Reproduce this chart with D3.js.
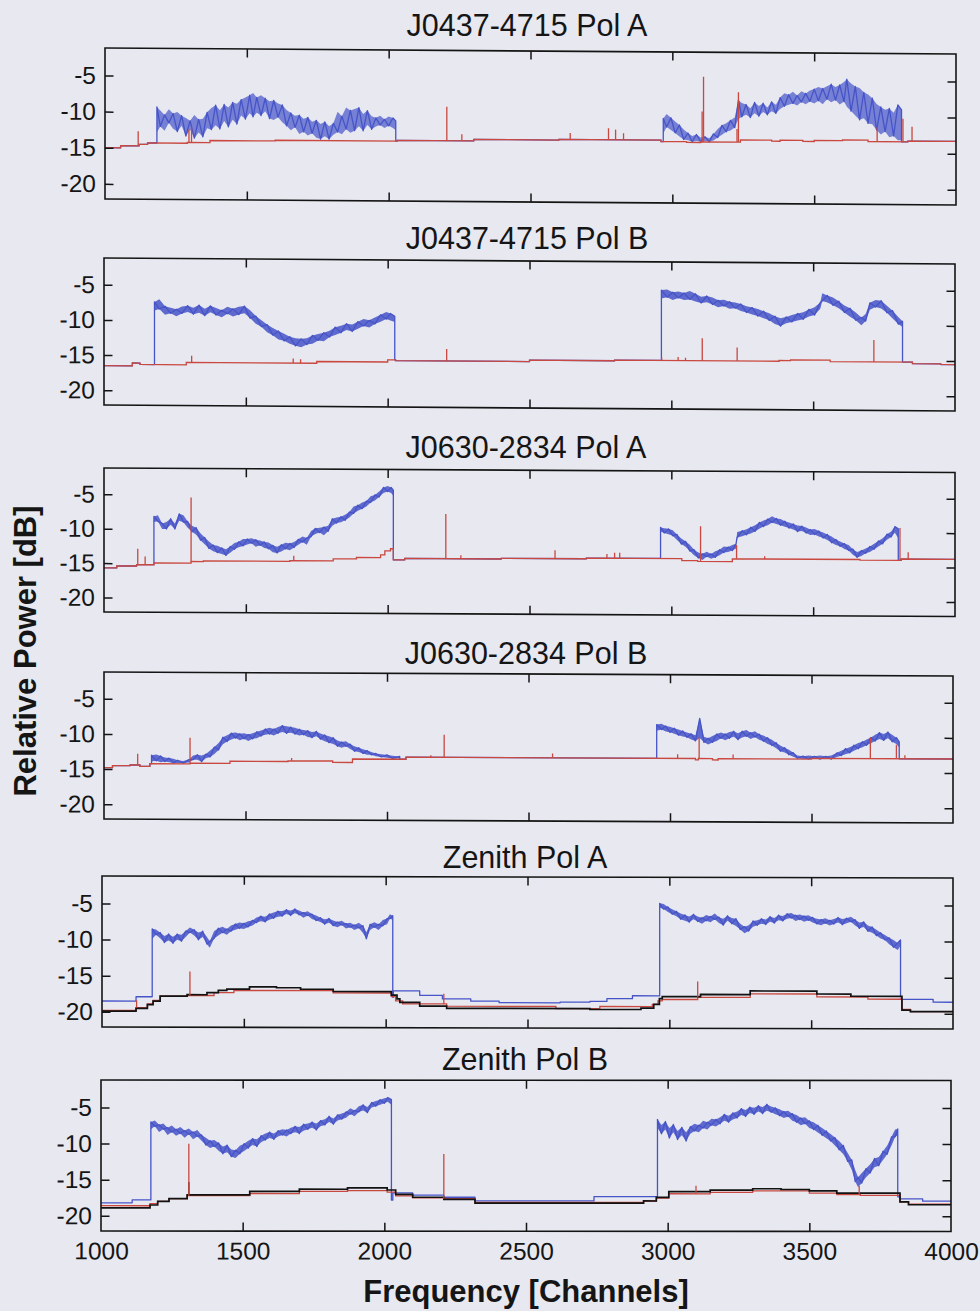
<!DOCTYPE html>
<html>
<head>
<meta charset="utf-8">
<script src="https://cdn.jsdelivr.net/npm/d3@7"></script>
<style>
  html, body { margin: 0; padding: 0; background: #e7e8f0; }
  svg { display: block; }
  text { font-family: "Liberation Sans", Arial, Helvetica, sans-serif; fill: #151515; }
</style>
</head>
<body>
<svg id="chart" width="980" height="1311"></svg>
<script>
// ---------------------------------------------------------------
// Data: relative power (dB) versus frequency channel.
// Baselines are step series [channel, dB]; spikes are [channel, peak dB];
// blue bands are sampled as [channel, low dB, high dB].
// ---------------------------------------------------------------
const xTickValues = [1000, 1500, 2000, 2500, 3000, 3500, 4000];
const yTickValues = [-5, -10, -15, -20];
const channelDomain = [1000, 4000];
const powerDomain = [-22.1, -1.2];

const titles = ["J0437-4715 Pol A", "J0437-4715 Pol B", "J0630-2834 Pol A",
                "J0630-2834 Pol B", "Zenith Pol A", "Zenith Pol B"];

// ---- J0437-4715 Pol A ----
const p1Red = [[1000,-15.0],[1055,-14.7],[1120,-14.5],[1150,-14.3],[1290,-14.2],[1370,-13.9],[1600,-13.8],
  [2030,-13.7],[2300,-13.5],[2600,-13.4],[2960,-13.6],[3050,-13.7],[3100,-13.6],[3240,-13.3],[3350,-13.45],
  [3380,-13.3],[3460,-13.45],[3500,-13.3],[3600,-13.2],[3690,-13.4],[3830,-13.3],[4000,-13.3]];
const p1RedSpikes = [[1117,-12.7],[1296,-12.4],[1305,-12.1],[2205,-9.0],[2258,-12.8],[2640,-12.5],[2775,-11.8],
  [2800,-12.0],[2828,-12.5],[3105,-9.4],[3110,-4.6],[3228,-11.8],[3233,-6.7],[3722,-11.4],[3813,-10.2],[3845,-11.3]];
const p1BlueLow = [
  [1183,-12.8,-9.3],[1195,-12.0,-9.8],[1210,-12.6,-10.4],[1225,-11.5,-9.6],[1240,-12.3,-10.2],[1255,-12.7,-10.0],
  [1270,-11.9,-10.5],[1285,-13.3,-10.8],[1300,-12.4,-11.2],[1315,-13.6,-10.4],[1330,-12.8,-11.0],[1345,-13.4,-10.9],
  [1360,-12.2,-10.0],[1375,-12.4,-9.4],[1390,-11.8,-9.0],[1405,-12.3,-9.7],[1420,-11.2,-8.9],[1435,-12.0,-9.3],
  [1450,-11.0,-8.6],[1465,-11.6,-8.8],[1480,-10.4,-8.2],[1495,-10.9,-7.9],[1510,-10.1,-7.6],[1522,-10.6,-7.3],
  [1535,-10.0,-7.9],[1550,-10.4,-7.6],[1565,-9.8,-8.0],[1580,-10.8,-8.4],[1595,-11.0,-8.3],[1610,-10.6,-8.7],
  [1625,-11.3,-8.9],[1640,-11.8,-9.6],[1655,-12.4,-10.0],[1670,-12.0,-10.4],[1685,-12.9,-10.3],[1700,-12.6,-10.8],
  [1715,-13.1,-10.6],[1730,-12.8,-11.2],[1745,-13.4,-11.0],[1760,-13.6,-11.5],[1775,-13.2,-11.2],[1790,-13.6,-11.8],
  [1805,-13.0,-11.4],[1820,-12.6,-9.8],[1835,-12.9,-10.4],[1850,-12.2,-9.2],[1865,-12.7,-9.6],[1880,-12.4,-9.4],
  [1895,-11.8,-9.2],[1910,-12.4,-10.1],[1925,-11.6,-9.6],[1940,-12.2,-10.4],[1955,-11.8,-10.6],[1970,-11.6,-10.3],
  [1985,-12.0,-10.8],[2000,-11.7,-10.4],[2015,-12.0,-10.6],[2025,-12.3,-11.0]];
const p1BlueHigh = [
  [2968,-12.5,-10.4],[2980,-11.6,-9.8],[2995,-12.0,-10.3],[3010,-12.4,-10.8],[3025,-12.9,-11.3],[3040,-13.3,-11.9],
  [3055,-13.4,-12.4],[3070,-13.6,-12.8],[3085,-13.5,-12.6],[3100,-13.6,-13.0],[3115,-13.5,-12.9],[3130,-13.6,-13.1],
  [3145,-13.4,-12.5],[3160,-13.0,-11.8],[3175,-12.6,-11.3],[3190,-12.2,-11.0],[3205,-12.0,-10.6],[3220,-11.6,-10.2],
  [3233,-10.4,-7.8],[3245,-10.1,-8.2],[3260,-9.8,-8.4],[3275,-10.2,-8.9],[3290,-9.6,-8.1],[3305,-10.0,-8.6],
  [3320,-9.4,-8.2],[3335,-9.8,-8.8],[3350,-9.3,-8.0],[3365,-9.6,-8.4],[3380,-9.0,-7.4],[3395,-8.6,-6.8],
  [3410,-8.4,-7.0],[3425,-8.2,-6.6],[3440,-8.5,-7.1],[3455,-8.0,-6.5],[3470,-8.3,-6.8],[3485,-7.9,-6.4],
  [3500,-8.2,-6.2],[3515,-7.8,-5.9],[3530,-8.3,-6.1],[3545,-7.6,-5.8],[3560,-8.0,-5.5],[3575,-7.7,-5.9],
  [3590,-8.3,-5.6],[3605,-7.9,-5.2],[3615,-8.6,-4.8],[3630,-9.2,-5.4],[3645,-9.8,-5.8],[3660,-10.4,-6.0],
  [3675,-10.2,-6.6],[3690,-10.9,-6.9],[3705,-11.0,-7.4],[3720,-11.8,-8.2],[3735,-12.4,-8.6],[3750,-12.0,-9.0],
  [3765,-12.8,-8.8],[3780,-12.6,-9.4],[3795,-13.2,-8.3],[3808,-13.2,-9.0]];

// ---- J0437-4715 Pol B ----
const p2Red = [[1000,-16.5],[1100,-16.1],[1127,-16.3],[1290,-15.95],[1750,-15.7],[2000,-15.4],[2028,-15.5],
  [2500,-15.3],[2800,-15.2],[3380,-15.1],[3420,-15.0],[3560,-15.2],[3850,-15.4],[3950,-15.5],[4000,-15.5]];
const p2RedSpikes = [[1309,-15.0],[1667,-15.3],[1693,-15.4],[2208,-13.8],[2966,-14.8],[3024,-14.7],[3050,-14.8],
  [3109,-12.0],[3232,-13.3],[3714,-12.1]];
const p2BlueLow = [
  [1178,-8.6,-7.4],[1195,-8.4,-7.0],[1215,-9.2,-8.0],[1235,-9.0,-8.2],[1255,-9.4,-8.4],[1275,-9.0,-8.0],
  [1295,-8.8,-7.9],[1315,-9.1,-8.2],[1335,-8.9,-7.8],[1355,-9.3,-8.3],[1375,-8.8,-7.9],[1395,-9.2,-8.2],
  [1415,-9.5,-8.5],[1435,-9.0,-8.0],[1455,-9.4,-8.3],[1475,-9.1,-8.0],[1495,-8.9,-7.9],[1515,-9.6,-8.5],
  [1535,-10.4,-9.3],[1555,-10.8,-9.9],[1575,-11.6,-10.5],[1595,-12.0,-11.0],[1615,-12.6,-11.4],[1635,-12.8,-11.8],
  [1655,-13.2,-12.2],[1675,-13.5,-12.4],[1695,-13.7,-12.5],[1715,-13.3,-12.4],[1735,-13.2,-12.0],[1755,-12.7,-11.8],
  [1775,-12.8,-11.6],[1795,-12.2,-11.3],[1815,-11.9,-10.8],[1835,-11.6,-10.6],[1855,-11.2,-10.3],[1875,-11.4,-10.4],
  [1895,-11.0,-10.0],[1915,-10.6,-9.6],[1935,-10.8,-9.8],[1955,-10.3,-9.4],[1975,-10.0,-9.0],[1995,-9.6,-8.6],
  [2010,-9.8,-8.8],[2025,-10.0,-9.2]];
const p2BlueHigh = [
  [2965,-6.4,-5.2],[2985,-6.2,-5.1],[3005,-6.6,-5.5],[3025,-6.3,-5.4],[3045,-6.6,-5.6],[3065,-6.5,-5.3],
  [3085,-6.8,-5.7],[3105,-7.0,-6.1],[3125,-6.9,-6.0],[3145,-7.2,-6.2],[3165,-7.6,-6.6],[3185,-7.4,-6.5],
  [3205,-7.8,-6.8],[3225,-7.7,-6.9],[3245,-8.1,-7.1],[3265,-8.3,-7.4],[3285,-8.6,-7.6],[3305,-8.8,-7.8],
  [3325,-9.1,-8.1],[3345,-9.4,-8.4],[3365,-9.9,-8.8],[3385,-10.2,-9.1],[3405,-9.8,-8.9],[3425,-9.6,-8.6],
  [3445,-9.4,-8.4],[3465,-9.2,-8.2],[3485,-8.8,-7.8],[3505,-8.6,-7.5],[3525,-7.7,-6.8],[3532,-6.6,-5.5],
  [3550,-6.8,-5.8],[3570,-7.2,-6.1],[3590,-7.6,-6.6],[3610,-8.2,-7.2],[3630,-8.8,-7.6],[3650,-9.3,-8.2],
  [3670,-10.0,-8.9],[3685,-9.4,-8.4],[3700,-7.8,-6.8],[3720,-7.4,-6.4],[3740,-7.6,-6.5],[3760,-8.2,-7.2],
  [3780,-9.0,-7.9],[3800,-9.8,-8.8],[3815,-10.2,-9.4]];

// ---- J0630-2834 Pol A ----
const p3Red = [[1000,-15.7],[1045,-15.4],[1115,-15.2],[1176,-14.95],[1307,-14.7],[1350,-14.6],[1655,-14.5],
  [1808,-14.2],[1890,-14.0],[1975,-13.6],[1990,-13.0],[2010,-12.7],[2020,-14.3],[2060,-14.1],[2400,-14.0],
  [2700,-13.9],[3037,-14.2],[3093,-14.3],[3215,-13.9],[3665,-14.0],[3810,-13.8],[4000,-13.8]];
const p3RedSpikes = [[1119,-12.9],[1145,-14.0],[1307,-5.4],[1669,-13.8],[2205,-7.6],[2258,-13.6],[2590,-12.8],
  [2773,-13.3],[2800,-13.1],[2818,-13.1],[3103,-9.2],[3230,-11.9],[3329,-13.5],[3806,-9.3],[3835,-12.8]];
const p3BlueLow = [
  [1176,-9.0,-8.2],[1190,-8.9,-8.0],[1205,-10.0,-9.2],[1220,-10.0,-9.0],[1235,-9.4,-8.5],[1250,-10.0,-9.2],
  [1265,-8.8,-7.8],[1280,-9.0,-8.0],[1295,-9.8,-8.9],[1310,-10.4,-9.5],[1325,-10.8,-9.8],[1340,-11.6,-10.6],
  [1355,-12.2,-11.2],[1370,-12.8,-11.8],[1385,-13.2,-12.3],[1400,-13.4,-12.4],[1415,-13.6,-12.7],[1430,-13.8,-12.9],
  [1445,-13.4,-12.5],[1460,-12.9,-12.0],[1475,-12.6,-11.8],[1490,-12.4,-11.4],[1505,-12.2,-11.4],[1520,-12.0,-11.3],
  [1535,-12.5,-11.5],[1550,-12.3,-11.6],[1565,-12.7,-11.8],[1580,-12.8,-11.9],[1595,-13.3,-12.3],[1610,-13.4,-12.5],
  [1625,-13.2,-12.2],[1640,-12.8,-11.9],[1655,-13.0,-12.0],[1670,-12.6,-11.8],[1685,-12.2,-11.4],[1700,-11.8,-11.0],
  [1715,-12.2,-11.2],[1730,-11.0,-10.2],[1745,-10.6,-9.8],[1760,-10.4,-9.7],[1775,-10.8,-9.6],[1790,-10.2,-9.4],
  [1805,-9.4,-8.4],[1820,-9.0,-8.2],[1835,-8.9,-8.1],[1850,-8.6,-7.8],[1865,-8.2,-7.4],[1880,-7.6,-6.6],
  [1895,-7.2,-6.4],[1910,-6.9,-6.0],[1925,-6.6,-5.8],[1940,-6.0,-5.1],[1955,-5.7,-4.9],[1970,-5.2,-4.4],
  [1985,-4.6,-3.8],[2000,-4.4,-3.6],[2012,-4.6,-3.8],[2020,-5.0,-4.2]];
const p3BlueHigh = [
  [2962,-10.0,-9.4],[2975,-10.2,-9.5],[2990,-10.4,-9.6],[3005,-10.6,-9.8],[3020,-11.2,-10.4],[3035,-11.8,-11.0],
  [3050,-12.2,-11.4],[3065,-12.8,-11.9],[3080,-13.4,-12.6],[3095,-13.8,-13.0],[3110,-14.1,-13.2],[3125,-13.6,-12.9],
  [3140,-13.9,-13.2],[3155,-13.7,-12.8],[3170,-13.4,-12.6],[3185,-13.0,-12.1],[3200,-12.9,-12.2],[3215,-12.7,-11.9],
  [3228,-12.4,-11.7],[3232,-10.8,-10.0],[3250,-10.6,-9.8],[3265,-10.4,-9.6],[3280,-10.2,-9.3],[3295,-9.9,-9.0],
  [3310,-9.5,-8.6],[3325,-9.2,-8.3],[3340,-9.0,-8.1],[3355,-8.6,-7.7],[3370,-8.8,-8.0],[3385,-9.0,-8.1],
  [3400,-9.2,-8.4],[3415,-9.4,-8.6],[3430,-9.6,-8.8],[3445,-9.9,-9.0],[3460,-9.8,-9.1],[3475,-10.1,-9.3],
  [3490,-10.4,-9.6],[3505,-10.3,-9.5],[3520,-10.6,-9.8],[3535,-10.8,-10.0],[3550,-11.1,-10.3],[3565,-11.5,-10.6],
  [3580,-11.8,-11.0],[3595,-12.0,-11.3],[3610,-12.4,-11.6],[3625,-12.6,-11.8],[3640,-13.2,-12.4],[3655,-13.6,-12.8],
  [3670,-13.4,-12.6],[3685,-13.0,-12.3],[3700,-12.8,-12.0],[3715,-12.4,-11.6],[3730,-12.0,-11.2],[3745,-11.6,-10.8],
  [3760,-11.0,-10.2],[3775,-10.6,-9.8],[3788,-10.0,-9.1],[3800,-10.8,-9.4]];

// ---- J0630-2834 Pol B ----
const p4Red = [[1000,-14.8],[1030,-14.5],[1092,-14.4],[1127,-14.6],[1162,-14.2],[1304,-14.1],[1445,-13.8],
  [1650,-13.7],[1808,-13.9],[1878,-13.4],[2067,-13.1],[2800,-13.1],[3090,-13.3],[3100,-13.1],[3150,-13.3],
  [3170,-13.1],[3500,-13.0],[4000,-13.0]];
const p4RedSpikes = [[1119,-12.8],[1304,-10.5],[1663,-13.3],[2155,-12.8],[2202,-9.9],[2585,-12.5],[3027,-12.5],
  [3103,-10.1],[3223,-12.5],[3708,-10.0],[3800,-11.0],[3830,-12.5]];
const p4BlueLow = [
  [1168,-13.9,-13.0],[1185,-13.8,-12.9],[1200,-14.0,-13.1],[1215,-13.9,-13.3],[1230,-14.0,-13.4],[1245,-14.1,-13.5],
  [1260,-14.1,-13.7],[1280,-14.1,-13.8],[1300,-14.0,-13.6],[1315,-13.6,-13.0],[1330,-13.6,-12.9],[1345,-13.9,-13.0],
  [1360,-13.4,-12.8],[1375,-13.2,-12.3],[1390,-12.8,-11.8],[1405,-12.2,-11.2],[1420,-11.4,-10.4],[1435,-11.0,-10.1],
  [1450,-10.7,-9.8],[1465,-10.5,-9.7],[1480,-10.8,-9.9],[1495,-10.6,-9.8],[1510,-10.9,-10.0],[1525,-10.6,-9.8],
  [1540,-10.5,-9.6],[1555,-10.2,-9.4],[1570,-10.0,-9.2],[1585,-9.9,-9.0],[1600,-10.1,-9.2],[1615,-9.8,-8.9],
  [1630,-9.6,-8.7],[1645,-9.8,-8.8],[1660,-9.7,-8.9],[1675,-9.9,-9.0],[1690,-10.1,-9.2],[1705,-10.0,-9.3],
  [1720,-10.3,-9.4],[1735,-10.4,-9.6],[1750,-10.2,-9.5],[1765,-10.6,-9.8],[1780,-10.9,-10.0],[1795,-11.1,-10.2],
  [1810,-11.3,-10.4],[1825,-11.6,-10.8],[1840,-11.8,-11.0],[1855,-11.6,-10.9],[1870,-12.0,-11.3],[1885,-12.3,-11.6],
  [1900,-12.4,-11.8],[1915,-12.6,-12.0],[1930,-12.8,-12.2],[1945,-12.8,-12.4],[1960,-13.0,-12.6],[1980,-13.1,-12.7],
  [2000,-13.2,-12.8],[2020,-13.3,-12.9],[2045,-13.3,-13.0]];
const p4BlueHigh = [
  [2953,-9.2,-8.3],[2970,-9.0,-8.2],[2985,-9.3,-8.5],[3000,-9.4,-8.6],[3015,-9.6,-8.8],[3030,-9.8,-9.0],
  [3045,-10.0,-9.2],[3060,-10.1,-9.4],[3075,-10.4,-9.6],[3090,-10.6,-9.8],[3105,-10.2,-7.4],[3120,-10.8,-10.0],
  [3135,-11.1,-10.2],[3150,-10.8,-9.9],[3165,-10.6,-9.6],[3180,-10.2,-9.4],[3195,-10.5,-9.6],[3210,-10.2,-9.3],
  [3225,-10.0,-9.2],[3240,-10.4,-9.5],[3255,-10.1,-9.2],[3270,-9.9,-9.0],[3285,-10.3,-9.4],[3300,-10.0,-9.2],
  [3315,-10.4,-9.6],[3330,-10.6,-9.8],[3345,-11.0,-10.1],[3360,-11.2,-10.4],[3375,-11.6,-10.8],[3390,-12.0,-11.2],
  [3405,-12.2,-11.5],[3420,-12.5,-11.8],[3435,-12.8,-12.2],[3450,-13.0,-12.6],[3470,-13.1,-12.7],[3490,-13.1,-12.6],
  [3510,-13.0,-12.7],[3530,-13.1,-12.6],[3550,-13.0,-12.7],[3570,-13.1,-12.6],[3590,-12.8,-12.2],[3605,-12.6,-11.9],
  [3620,-12.4,-11.6],[3635,-12.2,-11.4],[3650,-11.9,-11.1],[3665,-11.6,-10.8],[3680,-11.4,-10.6],[3695,-11.1,-10.3],
  [3710,-10.8,-10.0],[3725,-10.5,-9.6],[3740,-10.2,-9.3],[3755,-10.4,-9.5],[3770,-10.1,-9.2],[3785,-10.6,-9.6],
  [3800,-10.9,-10.0],[3810,-11.4,-10.6]];

// ---- Zenith Pol A ----
const p5BlueFloor = [[1000,-18.5],[1120,-17.9],[2027,-17.0],[2120,-17.6],[2200,-18.1],[2300,-18.4],[2400,-18.6],
  [2615,-18.5],[2720,-18.4],[2780,-18.0],[2870,-17.6],[3818,-18.0],[3930,-18.4],[4000,-18.4]];
const p5Black = [[1000,-19.9],[1120,-19.5],[1160,-19.0],[1180,-18.5],[1205,-17.8],[1300,-17.6],[1370,-17.3],
  [1410,-17.0],[1440,-16.8],[1520,-16.5],[1615,-16.6],[1700,-16.8],[1815,-17.1],[2020,-17.6],[2040,-18.1],
  [2050,-18.6],[2120,-19.1],[2215,-19.4],[2720,-19.5],[2900,-19.3],[2945,-18.8],[2965,-18.0],[2975,-17.7],
  [3110,-17.4],[3285,-16.9],[3520,-17.3],[3640,-17.6],[3820,-19.5],[3850,-19.7],[4000,-19.7]];
const p5Red = [[1000,-19.8],[1120,-19.4],[1160,-18.9],[1180,-18.4],[1205,-17.8],[1300,-17.7],[1395,-17.3],
  [1465,-17.0],[1815,-17.3],[2020,-17.8],[2035,-18.4],[2060,-18.8],[2215,-19.1],[2600,-19.4],[2755,-19.1],
  [2940,-18.8],[2960,-18.3],[2975,-18.1],[3100,-17.8],[3285,-17.3],[3520,-17.7],[3700,-18.0],[3820,-19.4],
  [3850,-19.7],[4000,-19.7]];
const p5RedSpikes = [[1122,-18.4],[1310,-14.4],[2205,-17.4],[3100,-15.6],[3815,-17.9]];
const p5BlueLow = [
  [1177,-9.9,-8.5],[1190,-9.3,-8.6],[1205,-9.8,-9.0],[1220,-10.4,-9.5],[1235,-10.1,-9.2],[1250,-10.5,-9.6],
  [1265,-10.0,-9.2],[1280,-10.2,-9.3],[1295,-9.6,-8.8],[1310,-9.0,-8.3],[1325,-9.4,-8.6],[1340,-10.0,-9.0],
  [1355,-9.6,-8.8],[1370,-10.6,-9.6],[1380,-11.1,-10.2],[1395,-9.8,-8.8],[1410,-9.4,-8.4],[1425,-9.0,-8.2],
  [1440,-9.3,-8.5],[1455,-8.8,-8.0],[1470,-8.6,-7.8],[1485,-8.4,-7.6],[1500,-8.5,-7.7],[1515,-8.2,-7.4],
  [1530,-8.0,-7.3],[1545,-7.6,-6.9],[1560,-7.4,-6.7],[1575,-7.5,-6.8],[1590,-7.2,-6.4],[1605,-7.0,-6.2],
  [1620,-6.8,-6.0],[1635,-6.7,-6.0],[1650,-6.4,-5.8],[1665,-6.6,-5.9],[1680,-6.3,-5.7],[1695,-6.5,-5.9],
  [1710,-6.9,-6.2],[1725,-6.6,-6.0],[1740,-7.1,-6.4],[1755,-7.3,-6.6],[1770,-7.5,-6.9],[1785,-7.8,-7.1],
  [1800,-7.6,-7.0],[1815,-8.0,-7.3],[1830,-8.2,-7.5],[1845,-7.9,-7.3],[1860,-8.4,-7.7],[1875,-8.2,-7.6],
  [1890,-8.6,-7.9],[1905,-8.3,-7.6],[1920,-9.0,-8.0],[1932,-9.8,-8.9],[1945,-8.6,-7.8],[1960,-8.2,-7.5],
  [1975,-8.6,-7.8],[1990,-8.0,-7.2],[2005,-7.8,-7.0],[2015,-7.0,-6.4],[2025,-7.2,-6.6]];
const p5BlueHigh = [
  [2966,-5.4,-4.8],[2980,-5.6,-4.9],[2995,-6.0,-5.3],[3010,-6.3,-5.6],[3025,-6.6,-5.9],[3040,-7.0,-6.2],
  [3055,-7.2,-6.4],[3070,-7.4,-6.6],[3085,-7.0,-6.3],[3100,-7.3,-6.6],[3115,-7.6,-6.8],[3130,-7.2,-6.4],
  [3145,-7.4,-6.6],[3160,-7.0,-6.2],[3175,-7.5,-6.7],[3190,-7.8,-6.9],[3205,-7.2,-6.5],[3220,-7.6,-6.8],
  [3235,-7.9,-6.9],[3250,-8.4,-7.6],[3265,-8.9,-8.0],[3280,-8.6,-7.8],[3295,-8.0,-7.2],[3310,-7.8,-7.1],
  [3325,-7.6,-6.9],[3340,-7.7,-7.0],[3355,-7.3,-6.6],[3370,-7.5,-6.8],[3385,-7.1,-6.4],[3400,-7.2,-6.5],
  [3415,-6.9,-6.2],[3430,-6.8,-6.1],[3445,-7.2,-6.4],[3460,-7.0,-6.3],[3475,-7.3,-6.5],[3490,-7.1,-6.4],
  [3505,-7.4,-6.7],[3520,-7.6,-6.9],[3535,-7.8,-7.0],[3550,-7.5,-6.8],[3565,-7.8,-7.1],[3580,-7.6,-6.9],
  [3595,-7.4,-6.7],[3610,-7.7,-6.9],[3625,-7.5,-6.8],[3640,-7.3,-6.6],[3655,-7.8,-7.0],[3670,-8.2,-7.4],
  [3685,-8.0,-7.3],[3700,-8.6,-7.8],[3715,-8.8,-8.0],[3730,-9.2,-8.4],[3745,-9.6,-8.8],[3760,-9.8,-9.1],
  [3775,-10.4,-9.5],[3790,-10.8,-9.8],[3805,-11.2,-10.2],[3815,-10.6,-9.8]];

// ---- Zenith Pol B ----
const p6BlueFloor = [[1000,-18.2],[1110,-17.8],[2030,-16.8],[2100,-17.1],[2210,-17.4],[2320,-17.9],[2740,-17.3],
  [3820,-17.6],[3900,-17.9],[4000,-17.9]];
const p6Black = [[1000,-18.9],[1173,-18.5],[1200,-18.0],[1240,-17.6],[1304,-17.1],[1525,-16.6],[1700,-16.3],
  [1870,-16.1],[2010,-16.4],[2040,-17.0],[2100,-17.4],[2210,-17.7],[2320,-18.2],[2915,-17.9],[2960,-17.4],
  [3004,-16.6],[3150,-16.4],[3300,-16.2],[3400,-16.3],[3500,-16.5],[3597,-16.8],[3820,-18.0],[3850,-18.4],[4000,-18.5]];
const p6BlackSpikes = [[1310,-15.3]];
const p6Red = [[1000,-18.6],[1173,-18.3],[1200,-18.0],[1240,-17.6],[1304,-17.2],[1525,-16.9],[1700,-16.6],
  [1870,-16.5],[2010,-16.7],[2040,-17.2],[2100,-17.5],[2210,-17.6],[2320,-18.1],[2915,-17.9],[2960,-17.5],
  [3004,-16.9],[3150,-16.7],[3300,-16.5],[3500,-16.8],[3597,-17.0],[3680,-17.1],[3820,-18.0],[3850,-18.3],[4000,-18.4]];
const p6RedSpikes = [[1310,-10.0],[2210,-11.4],[3100,-15.8],[3676,-15.8]];
const p6BlueLow = [
  [1176,-8.0,-7.0],[1190,-7.6,-6.8],[1205,-8.4,-7.4],[1220,-8.0,-7.2],[1235,-8.8,-7.8],[1250,-8.4,-7.5],
  [1265,-8.9,-8.0],[1280,-8.6,-7.7],[1295,-9.2,-8.2],[1310,-8.7,-7.9],[1325,-9.4,-8.4],[1340,-9.0,-8.1],
  [1355,-9.6,-8.8],[1370,-10.2,-9.2],[1385,-10.6,-9.6],[1400,-10.4,-9.5],[1415,-11.0,-9.9],[1430,-11.4,-10.4],
  [1445,-11.2,-10.2],[1460,-11.8,-10.8],[1475,-12.0,-10.9],[1490,-11.4,-10.3],[1505,-11.0,-10.0],[1520,-10.6,-9.6],
  [1535,-10.2,-9.3],[1550,-10.4,-9.4],[1565,-9.8,-8.9],[1580,-9.5,-8.6],[1595,-9.2,-8.4],[1610,-9.4,-8.6],
  [1625,-9.0,-8.2],[1640,-8.8,-8.0],[1655,-9.0,-8.1],[1670,-8.6,-7.8],[1685,-8.4,-7.6],[1700,-8.6,-7.7],
  [1715,-8.2,-7.3],[1730,-8.0,-7.2],[1745,-7.8,-7.0],[1760,-8.1,-7.2],[1775,-7.6,-6.8],[1790,-7.4,-6.6],
  [1805,-7.0,-6.2],[1820,-7.3,-6.5],[1835,-6.8,-6.0],[1850,-6.6,-5.8],[1865,-6.4,-5.6],[1880,-5.9,-5.1],
  [1895,-6.2,-5.4],[1910,-5.6,-4.8],[1925,-5.4,-4.6],[1940,-5.7,-4.9],[1955,-5.0,-4.3],[1970,-4.8,-4.1],
  [1985,-4.6,-3.9],[2000,-4.4,-3.7],[2012,-4.2,-3.6],[2025,-4.6,-3.9]];
const p6BlueHigh = [
  [2964,-7.8,-6.6],[2978,-8.6,-7.4],[2992,-8.0,-6.9],[3006,-9.2,-7.8],[3020,-8.4,-7.3],[3035,-9.4,-8.2],
  [3050,-8.8,-7.7],[3065,-9.6,-8.4],[3080,-8.6,-7.6],[3095,-8.2,-7.2],[3110,-8.4,-7.4],[3125,-7.8,-6.8],
  [3140,-8.0,-7.0],[3155,-7.4,-6.5],[3170,-7.6,-6.6],[3185,-7.2,-6.3],[3200,-6.8,-5.9],[3215,-7.0,-6.1],
  [3230,-6.6,-5.7],[3245,-6.4,-5.5],[3260,-6.0,-5.1],[3275,-6.2,-5.3],[3290,-5.7,-4.9],[3305,-5.9,-5.0],
  [3320,-5.5,-4.7],[3335,-5.8,-4.9],[3350,-5.4,-4.5],[3365,-5.6,-4.8],[3380,-5.9,-5.0],[3395,-6.1,-5.2],
  [3410,-6.4,-5.5],[3425,-6.2,-5.4],[3440,-6.8,-5.8],[3455,-7.0,-6.0],[3470,-7.4,-6.4],[3485,-7.2,-6.3],
  [3500,-7.8,-6.8],[3515,-8.0,-7.0],[3530,-8.4,-7.4],[3545,-8.8,-7.8],[3560,-9.2,-8.2],[3575,-9.6,-8.6],
  [3590,-10.2,-9.1],[3605,-10.8,-9.6],[3620,-11.4,-10.2],[3635,-12.4,-11.2],[3650,-13.6,-12.2],[3662,-15.2,-13.6],
  [3672,-16.0,-14.6],[3685,-15.4,-14.0],[3700,-14.6,-13.4],[3715,-14.0,-12.8],[3730,-13.2,-12.0],[3745,-13.0,-11.8],
  [3760,-12.2,-11.0],[3775,-11.4,-10.2],[3790,-10.2,-9.0],[3803,-9.0,-8.0],[3812,-8.8,-7.9]];

// Table of panels, assembled from the arrays above.
const panels = [
  { title: titles[0], red: p1Red, redSpikes: p1RedSpikes, blueFloor: p1Red, blueBands: [p1BlueLow, p1BlueHigh] },
  { title: titles[1], red: p2Red, redSpikes: p2RedSpikes, blueFloor: p2Red, blueBands: [p2BlueLow, p2BlueHigh] },
  { title: titles[2], red: p3Red, redSpikes: p3RedSpikes, blueFloor: p3Red, blueBands: [p3BlueLow, p3BlueHigh] },
  { title: titles[3], red: p4Red, redSpikes: p4RedSpikes, blueFloor: p4Red, blueBands: [p4BlueLow, p4BlueHigh] },
  { title: titles[4], red: p5Red, redSpikes: p5RedSpikes, black: p5Black, blueFloor: p5BlueFloor, blueBands: [p5BlueLow, p5BlueHigh] },
  { title: titles[5], red: p6Red, redSpikes: p6RedSpikes, black: p6Black, blackSpikes: p6BlackSpikes, blueFloor: p6BlueFloor, blueBands: [p6BlueLow, p6BlueHigh] }
];

// ---------------------------------------------------------------
// Layout (pixels) of each axes box on the page; tilt = drop of the right edge.
// ---------------------------------------------------------------
const boxes = [
  { x0: 105, x1: 956, top: 48,   bottom: 199,  tilt: 6,   titleX: 527, titleY: 36,   bandFill: 0.7 },
  { x0: 104, x1: 955, top: 258,  bottom: 405,  tilt: 6,   titleX: 527, titleY: 249,  bandFill: 0.85 },
  { x0: 104, x1: 955, top: 468,  bottom: 612,  tilt: 4.5, titleX: 526, titleY: 458,  bandFill: 0.85 },
  { x0: 104, x1: 953, top: 672,  bottom: 819,  tilt: 4,   titleX: 526, titleY: 664,  bandFill: 0.85 },
  { x0: 102, x1: 953, top: 876,  bottom: 1027, tilt: 2,   titleX: 525, titleY: 868,  bandFill: 0.85 },
  { x0: 101, x1: 951, top: 1080, bottom: 1231, tilt: 0.5, titleX: 525, titleY: 1070, bandFill: 0.85 }
];

const COLORS = { blue: "#4654c8", red: "#c9483f", black: "#121212", axis: "#141414" };

// Value of a step series at a channel (last breakpoint at or before it).
function stepAt(series, ch) {
  let v = series[0][1];
  for (const [c, val] of series) { if (c <= ch) v = val; else break; }
  return v;
}
// Corner points of a step series between channels a and b.
function stepPoints(series, a, b) {
  const pts = [[a, stepAt(series, a)]];
  for (const [c, v] of series) {
    if (c > a && c < b) { pts.push([c, stepAt(series, c - 1e-6)]); pts.push([c, v]); }
  }
  pts.push([b, stepAt(series, b - 1e-6)]);
  return pts;
}
// Blue trace: floor outside the bands, a low/high zig-zag inside them.
function bluePoints(floor, bands) {
  let pts = [];
  let cur = channelDomain[0];
  bands.forEach(band => {
    const n = band.length;
    const s = band[0][0], e = band[n - 1][0];
    pts = pts.concat(stepPoints(floor, cur, s));
    band.forEach(([c, lo, hi], i) => {
      if (i === 0) pts.push([c, lo], [c, hi]);
      else if (i === n - 1) pts.push([c, hi], [c, lo]);
      else pts.push([c, i % 2 ? lo : hi]);
    });
    pts.push([e, stepAt(floor, e)]);
    cur = e;
  });
  return pts.concat(stepPoints(floor, cur, channelDomain[1]));
}

const svg = d3.select("#chart");

panels.forEach((p, i) => {
  const b = boxes[i];
  const w = b.x1 - b.x0, h = b.bottom - b.top;
  const skew = Math.atan(b.tilt / w) * 180 / Math.PI;
  const x = d3.scaleLinear().domain(channelDomain).range([0, w]);
  const y = d3.scaleLinear().domain(powerDomain).range([h, 0]);
  const line = d3.line().x(d => x(d[0])).y(d => y(d[1]));
  const band = d3.area().x(d => x(d[0])).y0(d => y(d[1])).y1(d => y(d[2]));

  svg.append("text")
    .attr("x", b.titleX).attr("y", b.titleY)
    .attr("text-anchor", "middle")
    .attr("font-size", 30.5)
    .text(p.title);

  const g = svg.append("g").attr("transform", `translate(${b.x0},${b.top}) skewY(${skew})`);

  // noisy blue bands: shaded spread plus the jagged trace
  g.append("g").selectAll("path").data(p.blueBands).join("path")
    .attr("d", band).attr("fill", COLORS.blue).attr("fill-opacity", b.bandFill).attr("stroke", "none");
  g.append("path").datum(bluePoints(p.blueFloor, p.blueBands))
    .attr("d", line).attr("fill", "none")
    .attr("stroke", COLORS.blue).attr("stroke-width", 1.3).attr("stroke-linejoin", "round");

  g.append("path").datum(stepPoints(p.red, channelDomain[0], channelDomain[1]))
    .attr("d", line).attr("fill", "none")
    .attr("stroke", COLORS.red).attr("stroke-width", 1.3);

  if (p.black) {
    g.append("path").datum(stepPoints(p.black, channelDomain[0], channelDomain[1]))
      .attr("d", line).attr("fill", "none")
      .attr("stroke", COLORS.black).attr("stroke-width", 1.7);
  }
  if (p.blackSpikes) {
    g.append("g").selectAll("line").data(p.blackSpikes).join("line")
      .attr("x1", d => x(d[0])).attr("x2", d => x(d[0]))
      .attr("y1", d => y(stepAt(p.black, d[0]))).attr("y2", d => y(d[1]))
      .attr("stroke", COLORS.black).attr("stroke-width", 1.3);
  }
  g.append("g").selectAll("line").data(p.redSpikes).join("line")
    .attr("x1", d => x(d[0])).attr("x2", d => x(d[0]))
    .attr("y1", d => y(stepAt(p.red, d[0]))).attr("y2", d => y(d[1]))
    .attr("stroke", COLORS.red).attr("stroke-width", 1.3);

  // axes box and inward ticks on all four sides
  const tick = 8.5;
  const isLast = i === panels.length - 1;
  const plain = d => String(d);
  const left = g.append("g").call(d3.axisLeft(y).tickValues(yTickValues).tickSize(-tick).tickSizeOuter(0).tickPadding(9).tickFormat(plain));
  const right = g.append("g").attr("transform", `translate(${w},0)`)
    .call(d3.axisRight(y).tickValues(yTickValues).tickSize(-tick).tickSizeOuter(0).tickFormat(""));
  const top = g.append("g").call(d3.axisTop(x).tickValues(xTickValues.slice(1, -1)).tickSize(-tick).tickSizeOuter(0).tickFormat(""));
  const bottom = g.append("g").attr("transform", `translate(0,${h})`)
    .call(d3.axisBottom(x).tickValues(isLast ? xTickValues : xTickValues.slice(1, -1))
      .tickSize(-tick).tickSizeOuter(0).tickPadding(11).tickFormat(isLast ? plain : ""));
  [left, right, top, bottom].forEach(a => {
    a.select(".domain").remove();
    a.selectAll(".tick line").attr("stroke", COLORS.axis).attr("stroke-width", 1.5);
    a.selectAll("text").attr("font-size", 24.5).attr("fill", COLORS.axis)
      .attr("font-family", '"Liberation Sans", Arial, sans-serif');
  });
  if (isLast) bottom.selectAll(".tick line").filter(d => d === 1000 || d === 4000).remove();

  g.append("rect").attr("x", 0).attr("y", 0).attr("width", w).attr("height", h)
    .attr("fill", "none").attr("stroke", COLORS.axis).attr("stroke-width", 1.6);
});

// axis titles
svg.append("text")
  .attr("x", 526).attr("y", 1302)
  .attr("text-anchor", "middle").attr("font-size", 31).attr("font-weight", "bold")
  .text("Frequency [Channels]");
svg.append("text")
  .attr("transform", "translate(36,651) rotate(-90)")
  .attr("text-anchor", "middle").attr("font-size", 31).attr("font-weight", "bold")
  .text("Relative Power [dB]");
</script>
</body>
</html>
